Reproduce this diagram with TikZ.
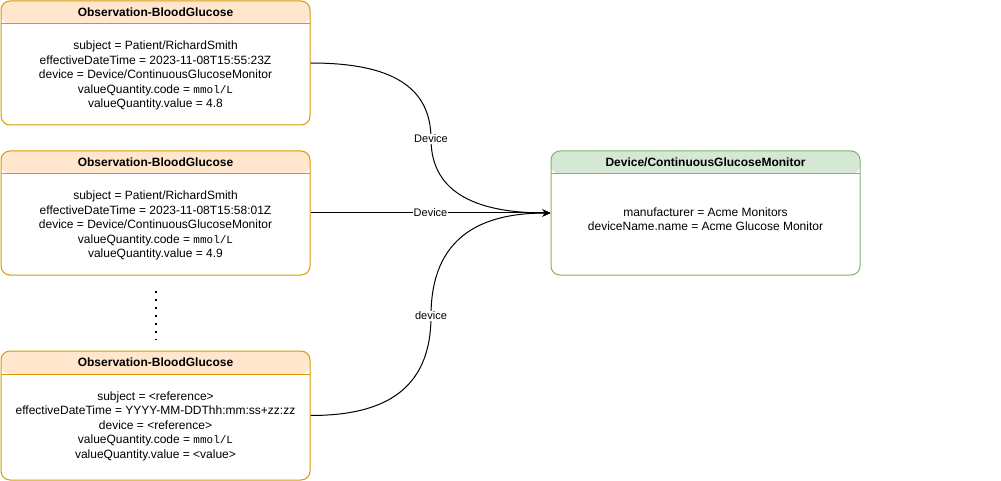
\documentclass[tikz,border=0pt]{standalone}
\usepackage{fontspec}
\setmainfont{Liberation Sans}
\newfontfamily\monofont{Liberation Mono}
\usepackage{xcolor}
\usetikzlibrary{arrows.meta}
\newcommand{\unitcode}[1]{{\monofont\fontsize{11}{14.5}\selectfont #1}}

\definecolor{obsfill}{HTML}{FFE6CC}
\definecolor{obsline}{HTML}{D79B00}
\definecolor{devfill}{HTML}{D5E8D4}
\definecolor{devline}{HTML}{82B366}

\begin{document}
\begin{tikzpicture}[x=1pt,y=-1pt,
    obsbox/.style={draw=obsline,line width=1pt,rounded corners=9pt,minimum width=309pt,inner sep=0,
        path picture={\fill[obsfill] (path picture bounding box.north west) rectangle ([yshift=-23pt]path picture bounding box.north east);
            \draw[obsline,line width=1pt] ([yshift=-23pt]path picture bounding box.north west)--([yshift=-23pt]path picture bounding box.north east);}},
    devbox/.style={draw=devline,line width=1pt,rounded corners=9pt,minimum width=309pt,inner sep=0,
        path picture={\fill[devfill] (path picture bounding box.north west) rectangle ([yshift=-23pt]path picture bounding box.north east);
            \draw[devline,line width=1pt] ([yshift=-23pt]path picture bounding box.north west)--([yshift=-23pt]path picture bounding box.north east);}},
    title/.style={font=\bfseries\fontsize{12}{14}\selectfont,inner sep=0},
    body/.style={align=center,font=\fontsize{12}{14.5}\selectfont,inner sep=0},
    link/.style={line width=1pt,-{Stealth[length=8pt,width=7pt]}},
    lbl/.style={fill=white,font=\fontsize{11}{13}\selectfont,inner sep=0.5pt}]
    \useasboundingbox (0,0) rectangle (1001,481);

    \node(o1)[obsbox,minimum height=124pt] at (155.5,63) {};
    \node(o2)[obsbox,minimum height=124pt] at (155.5,213) {};
    \node(o3)[obsbox,minimum height=129pt] at (155.5,415.5) {};
    \node(d)[devbox,minimum height=124pt] at (705.5,213) {};

    \node(t1)[title] at ([yshift=-11.5pt]o1.north) {Observation-BloodGlucose};
    \node(t2)[title] at ([yshift=-11.5pt]o2.north) {Observation-BloodGlucose};
    \node(t3)[title] at ([yshift=-11.5pt]o3.north) {Observation-BloodGlucose};
    \node(td)[title] at ([yshift=-11.5pt]d.north) {Device/ContinuousGlucoseMonitor};

    \node(b1)[body] at (155.5,75.5) {subject = Patient/RichardSmith\\effectiveDateTime = 2023-11-08T15:55:23Z\\device = Device/ContinuousGlucoseMonitor\\valueQuantity.code = \unitcode{mmol/L}\\valueQuantity.value = 4.8};
    \node(b2)[body] at (155.5,225.5) {subject = Patient/RichardSmith\\effectiveDateTime = 2023-11-08T15:58:01Z\\device = Device/ContinuousGlucoseMonitor\\valueQuantity.code = \unitcode{mmol/L}\\valueQuantity.value = 4.9};
    \node(b3)[body] at (155.5,426) {subject = <reference>\\effectiveDateTime = YYYY-MM-DDThh:mm:ss+zz:zz\\device = <reference>\\valueQuantity.code = \unitcode{mmol/L}\\valueQuantity.value = <value>};
    \node(bd)[body] at (705.5,219) {manufacturer = Acme Monitors\\deviceName.name = Acme Glucose Monitor};

    % more observations
    \draw[line width=2pt,dash pattern=on 2pt off 6pt] ([yshift=-15pt]o2.south) -- ([yshift=11pt]o3.north);

    \draw[link] (o1.east) .. controls (380,63) and (431,80) .. (431,139) node[lbl]{Device} .. controls (431,196) and (482,213) .. (d.west);
    \draw[link] (o2.east) -- node[lbl,pos=0.5]{Device} (d.west);
    \draw[link] (o3.east) .. controls (380,415.5) and (431,393) .. (431,316) node[lbl]{device} .. controls (431,236) and (482,213) .. (d.west);
\end{tikzpicture}
\end{document}
